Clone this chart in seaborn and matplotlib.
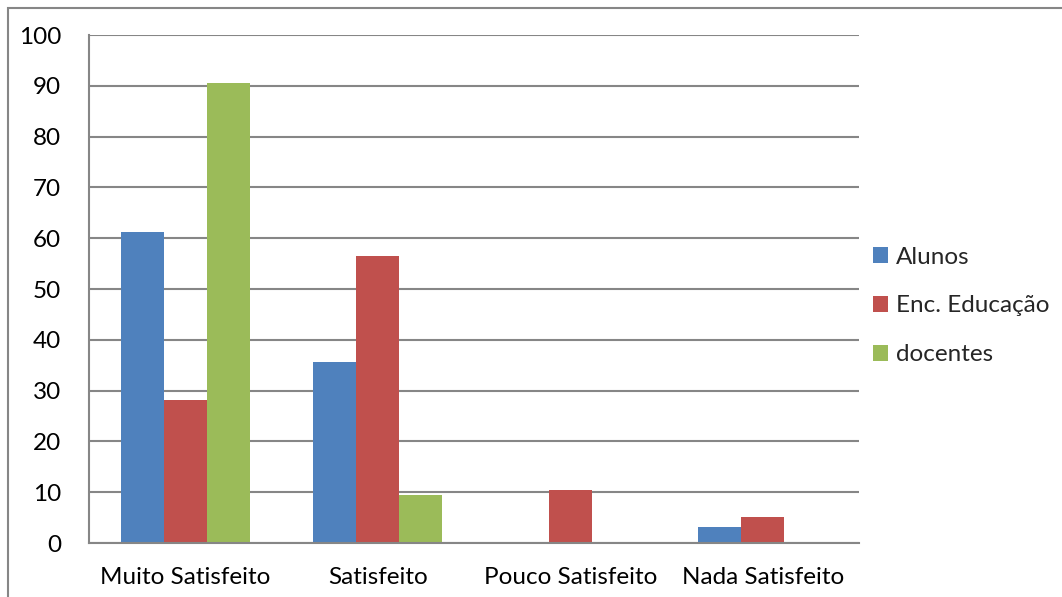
import matplotlib
matplotlib.use("Agg")
import matplotlib.pyplot as plt
import matplotlib.patches as mpatches
import seaborn as sns
import pandas as pd

categories = ["Muito Satisfeito", "Satisfeito", "Pouco Satisfeito", "Nada Satisfeito"]
series_names = ["Alunos", "Enc. Educação", "docentes"]
alunos = [61.2, 35.6, 0.0, 3.2]
enc_educacao = [28.1, 56.5, 10.4, 5.1]
docentes = [90.5, 9.5, 0.0, 0.0]
colors = ["#4F81BD", "#C0504D", "#9BBB59"]
y_ticks = [0, 10, 20, 30, 40, 50, 60, 70, 80, 90, 100]

rows = []
for name, vals in zip(series_names, [alunos, enc_educacao, docentes]):
    for c, v in zip(categories, vals):
        rows.append({"cat": c, "serie": name, "valor": v})
df = pd.DataFrame(rows)

sns.set_style("white")
plt.rcParams["font.family"] = ["Lato", "DejaVu Sans"]

FS = 17.5
W, H = 1062, 597
fig = plt.figure(figsize=(W / 100, H / 100), dpi=100)
ax = fig.add_axes([89 / W, 1 - 543 / H, (859 - 89) / W, (543 - 35) / H])

sns.barplot(data=df, x="cat", y="valor", hue="serie", order=categories,
            hue_order=series_names, palette=colors, width=0.67,
            saturation=1, ax=ax, legend=False, edgecolor="none", linewidth=0)

grid_c = "#868686"
ax.set_ylim(0, 100)
ax.set_xlim(-0.5, len(categories) - 0.5)
ax.set_yticks(y_ticks)
ax.set_yticklabels([str(t) for t in y_ticks], fontsize=FS, color="black")
ax.yaxis.grid(True, color=grid_c, linewidth=1.5)
ax.set_axisbelow(True)
ax.set_xlabel("")
ax.set_ylabel("")
for s in ["top", "right"]:
    ax.spines[s].set_visible(False)
for s in ["left", "bottom"]:
    ax.spines[s].set_color(grid_c)
    ax.spines[s].set_linewidth(1.5)

# x ticks at category boundaries, labels centered
ax.set_xticks([i - 0.5 for i in range(len(categories) + 1)], minor=False)
ax.set_xticklabels([""] * (len(categories) + 1))
ax.set_xticks(range(len(categories)), minor=True)
ax.set_xticklabels(categories, minor=True, fontsize=FS, color="black")
ax.tick_params(axis="x", which="major", length=7, width=1.5, color=grid_c, direction="out")
ax.tick_params(axis="x", which="minor", length=0, pad=17)
ax.tick_params(axis="y", length=8, width=1.5, color=grid_c, direction="out", pad=12)

handles = [mpatches.Patch(facecolor=c, edgecolor="none") for c in colors]
fig.legend(handles, series_names, loc="center left", bbox_to_anchor=(861 / W, 1 - 306 / H),
           frameon=False, fontsize=FS, handlelength=0.6, handleheight=0.6,
           handletextpad=0.35, labelspacing=1.15, borderpad=0)

# outer chart border
border = mpatches.Rectangle((8 / W, -0.1), 1.2, 1.1 - 8 / H, transform=fig.transFigure,
                            fill=False, edgecolor=grid_c, linewidth=1.5, clip_on=False)
fig.patches.append(border)

fig.savefig("out.png", dpi=100)
